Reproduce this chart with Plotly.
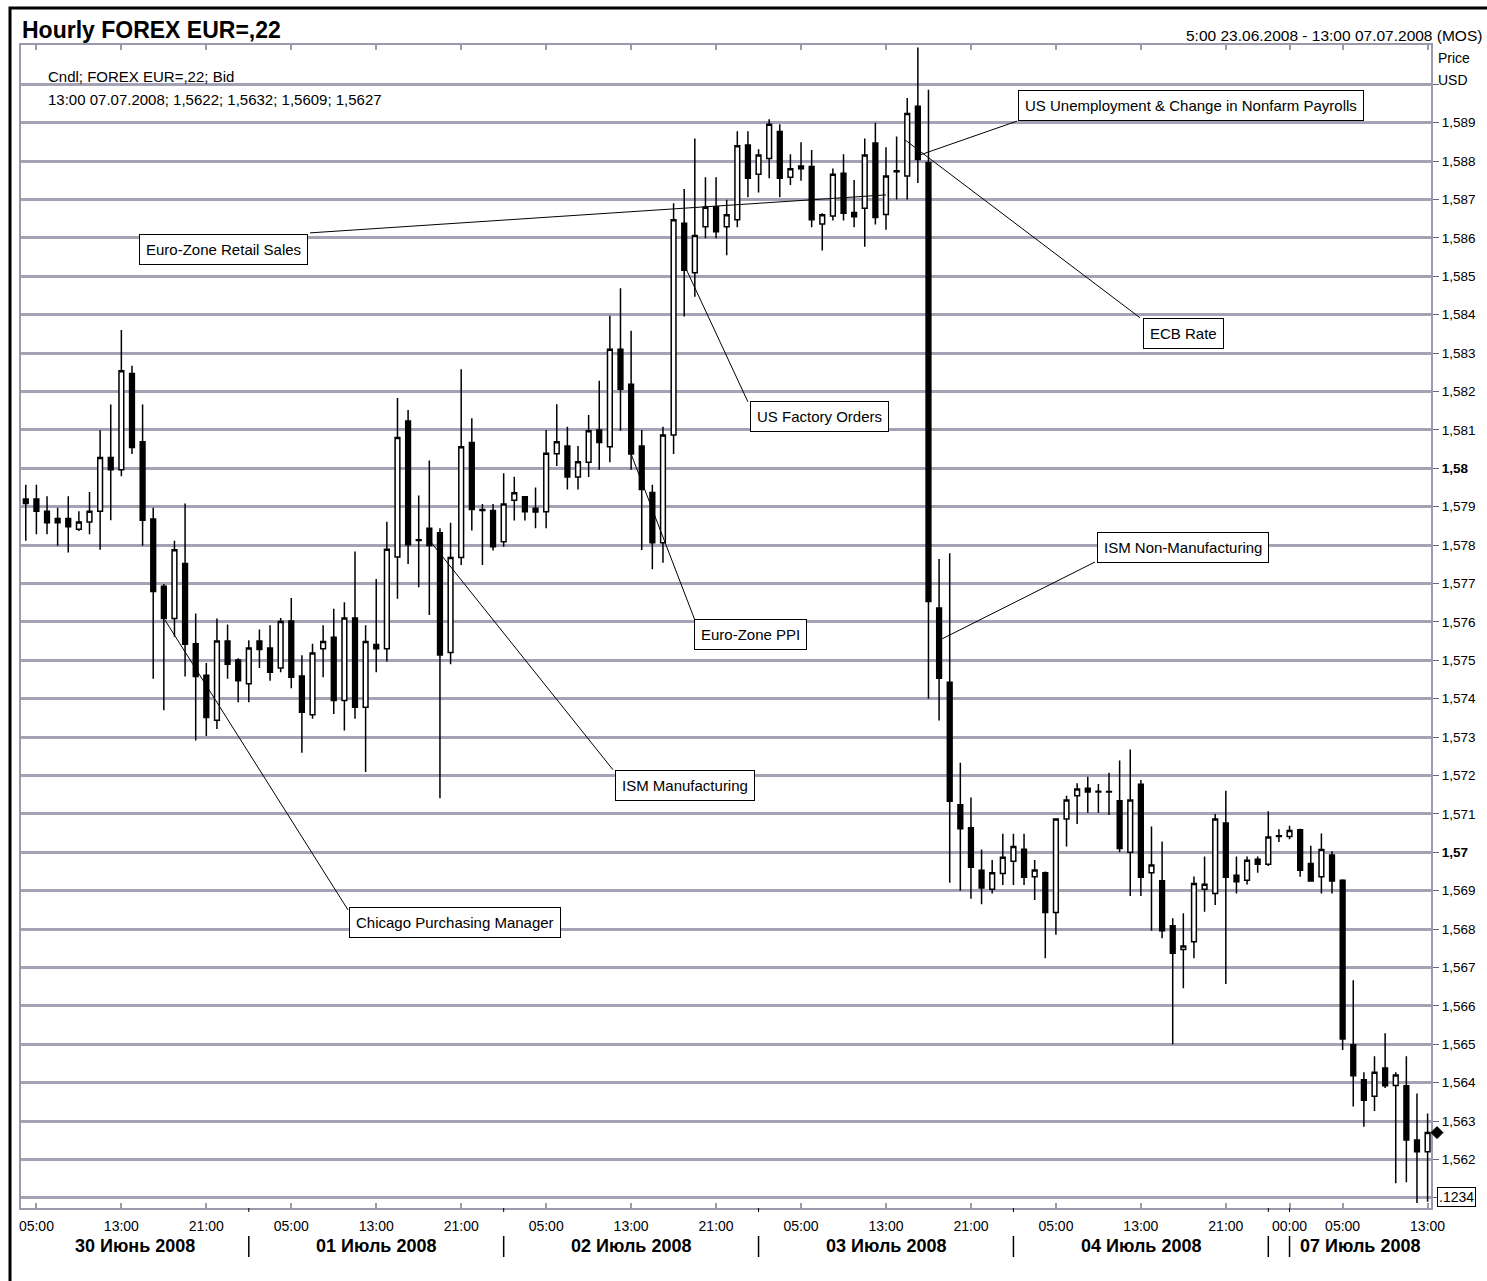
import plotly.graph_objects as go

# ---------------- data (hourly EUR/USD, 30.06.2008 04:00 .. 07.07.2008 13:00) ----------------
opens = [1.5792, 1.5792, 1.57888, 1.57869, 1.57869, 1.57841, 1.5786, 1.57888, 1.58028, 1.57996,
         1.58247, 1.58069, 1.57868, 1.57693, 1.57609, 1.57752, 1.57543, 1.57461, 1.57344, 1.5755,
         1.57501, 1.57439, 1.5755, 1.57532, 1.5748, 1.57602, 1.57459, 1.57358, 1.5753, 1.5756,
         1.57395, 1.5761, 1.57378, 1.57541, 1.5753, 1.57769, 1.58123, 1.57814, 1.57844, 1.57832,
         1.5752, 1.57768, 1.58067, 1.57893, 1.5789, 1.57809, 1.57917, 1.57926, 1.57896, 1.57887,
         1.58038, 1.58058, 1.57977, 1.58016, 1.581, 1.58056, 1.5831, 1.58219, 1.58058, 1.57937,
         1.57806, 1.58087, 1.58638, 1.58509, 1.58629, 1.58681, 1.58629, 1.58647, 1.58842, 1.58766,
         1.58807, 1.58877, 1.58758, 1.58787, 1.58786, 1.58636, 1.58657, 1.58768, 1.58666, 1.58677,
         1.58847, 1.58661, 1.58772, 1.58761, 1.58943, 1.58796, 1.57636, 1.57443, 1.57124, 1.57064,
         1.56953, 1.56904, 1.56945, 1.56977, 1.57008, 1.56936, 1.56947, 1.56843, 1.57087, 1.57147,
         1.57167, 1.57159, 1.57158, 1.57134, 1.57, 1.57177, 1.56947, 1.56926, 1.56809, 1.56747,
         1.56767, 1.56904, 1.56893, 1.57076, 1.5694, 1.56927, 1.56982, 1.56969, 1.57041, 1.57041,
         1.57059, 1.56971, 1.56936, 1.56993, 1.56927, 1.56499, 1.56408, 1.56365, 1.56438, 1.56393,
         1.56392, 1.56251, 1.5622]
highs = [1.57957, 1.57957, 1.57927, 1.57897, 1.57927, 1.57888, 1.57938, 1.58099, 1.58166, 1.5836,
         1.58267, 1.58166, 1.57897, 1.57699, 1.57811, 1.57908, 1.57622, 1.57493, 1.57609, 1.57593,
         1.57505, 1.57552, 1.5758, 1.57591, 1.5761, 1.57662, 1.57513, 1.57543, 1.57591, 1.57634,
         1.57651, 1.57783, 1.57591, 1.57712, 1.57861, 1.58183, 1.58152, 1.57929, 1.5802, 1.57844,
         1.57858, 1.58258, 1.5813, 1.57907, 1.57907, 1.57987, 1.57978, 1.57926, 1.5795, 1.581,
         1.58167, 1.58108, 1.58058, 1.58139, 1.58228, 1.58397, 1.58469, 1.58358, 1.581, 1.57957,
         1.58108, 1.5869, 1.58727, 1.58859, 1.58758, 1.58758, 1.58699, 1.58878, 1.58878, 1.58831,
         1.58909, 1.58896, 1.58818, 1.58849, 1.58829, 1.58664, 1.58781, 1.58818, 1.58751, 1.58859,
         1.589, 1.58836, 1.58864, 1.58964, 1.59096, 1.58986, 1.57764, 1.57779, 1.57233, 1.57143,
         1.57007, 1.5698, 1.57048, 1.57048, 1.57048, 1.5698, 1.5695, 1.57087, 1.57147, 1.5718,
         1.57197, 1.57178, 1.57207, 1.57239, 1.57268, 1.57188, 1.57067, 1.57028, 1.56828, 1.56841,
         1.56937, 1.56989, 1.571, 1.5716, 1.56989, 1.56989, 1.56989, 1.57107, 1.5706, 1.57069,
         1.57061, 1.57017, 1.57049, 1.57003, 1.5693, 1.56667, 1.56427, 1.56469, 1.56529, 1.56427,
         1.56469, 1.56372, 1.5632]
lows = [1.57811, 1.57828, 1.57828, 1.57798, 1.57781, 1.57837, 1.57828, 1.57788, 1.57865, 1.57979,
        1.58037, 1.57798, 1.57452, 1.5737, 1.57561, 1.57458, 1.57291, 1.57303, 1.57321, 1.57452,
        1.57391, 1.57391, 1.5748, 1.57447, 1.57469, 1.57427, 1.57259, 1.57348, 1.57456, 1.5736,
        1.57317, 1.57348, 1.57209, 1.57469, 1.57497, 1.5766, 1.57751, 1.5769, 1.57618, 1.57141,
        1.5749, 1.57748, 1.57838, 1.57748, 1.57786, 1.57796, 1.57864, 1.57864, 1.57844, 1.57844,
        1.58006, 1.57945, 1.57945, 1.57977, 1.57996, 1.58016, 1.58098, 1.57996, 1.57787, 1.57737,
        1.57754, 1.58037, 1.58395, 1.58447, 1.58599, 1.58599, 1.58555, 1.58628, 1.58706, 1.58718,
        1.58755, 1.58706, 1.58738, 1.58749, 1.58628, 1.58567, 1.58645, 1.58645, 1.58628, 1.58577,
        1.58635, 1.58621, 1.587, 1.587, 1.58743, 1.574, 1.57343, 1.56921, 1.569, 1.56879,
        1.56865, 1.56893, 1.56915, 1.56915, 1.56915, 1.56876, 1.56724, 1.56785, 1.57015, 1.57074,
        1.57103, 1.57103, 1.57097, 1.57, 1.56886, 1.56886, 1.56796, 1.56776, 1.565, 1.56646,
        1.56724, 1.56845, 1.56863, 1.56657, 1.56893, 1.56916, 1.56947, 1.56964, 1.57027, 1.57034,
        1.56936, 1.56923, 1.56893, 1.56893, 1.56485, 1.56338, 1.56285, 1.56326, 1.56386, 1.56138,
        1.56141, 1.56087, 1.5609]
closes = [1.57908, 1.57888, 1.57858, 1.57858, 1.57848, 1.5786, 1.57888, 1.58028, 1.57996, 1.58254,
          1.58054, 1.57865, 1.57679, 1.57609, 1.57788, 1.57542, 1.57458, 1.57351, 1.5755, 1.5749,
          1.57447, 1.57532, 1.57528, 1.57469, 1.57601, 1.57456, 1.57365, 1.57519, 1.57549, 1.57395,
          1.5761, 1.57378, 1.57549, 1.5753, 1.57789, 1.5808, 1.57801, 1.57812, 1.57799, 1.57514,
          1.57768, 1.58056, 1.57893, 1.5789, 1.57796, 1.57907, 1.57936, 1.57887, 1.57886, 1.58039,
          1.58069, 1.57977, 1.58017, 1.58098, 1.58067, 1.5831, 1.58206, 1.58037, 1.57945, 1.57806,
          1.58087, 1.58647, 1.58516, 1.58606, 1.5868, 1.58616, 1.5866, 1.5884, 1.58755, 1.58816,
          1.58896, 1.58755, 1.5878, 1.5878, 1.58647, 1.5866, 1.58766, 1.58664, 1.58655, 1.58816,
          1.58653, 1.58761, 1.58775, 1.58924, 1.58804, 1.57653, 1.57453, 1.57133, 1.57061, 1.56961,
          1.56907, 1.56947, 1.56987, 1.57015, 1.56935, 1.56954, 1.56843, 1.57087, 1.57136, 1.57165,
          1.57157, 1.57157, 1.57157, 1.5701, 1.57136, 1.56935, 1.56967, 1.56796, 1.56737, 1.56756,
          1.56919, 1.56917, 1.57087, 1.56935, 1.56923, 1.56979, 1.56969, 1.5704, 1.57043, 1.57057,
          1.56953, 1.56925, 1.57007, 1.56925, 1.56514, 1.56418, 1.56354, 1.56427, 1.56392, 1.5642,
          1.56251, 1.5622, 1.5627]
candle_idx = list(range(len(opens)))

hour_tick_idx = [1, 9, 17, 25, 33, 41, 49, 57, 65, 73, 81, 89, 97, 105, 113, 119, 124, 132]
hour_tick_text = ['05:00', '13:00', '21:00', '05:00', '13:00', '21:00', '05:00', '13:00', '21:00',
                  '05:00', '13:00', '21:00', '05:00', '13:00', '21:00', '00:00', '05:00', '13:00']
day_breaks = [21, 45, 69, 93, 117, 119]
day_labels = ['30 Июнь 2008', '01 Июль 2008', '02 Июль 2008', '03 Июль 2008', '04 Июль 2008', '',
              '07 Июль 2008']

price_ticks = [1.561, 1.562, 1.563, 1.564, 1.565, 1.566, 1.567, 1.568, 1.569, 1.570,
               1.571, 1.572, 1.573, 1.574, 1.575, 1.576, 1.577, 1.578, 1.579, 1.580,
               1.581, 1.582, 1.583, 1.584, 1.585, 1.586, 1.587, 1.588, 1.589, 1.590]
price_tick_text = ['', '1,562', '1,563', '1,564', '1,565', '1,566', '1,567', '1,568', '1,569',
                   '<b>1,57</b>', '1,571', '1,572', '1,573', '1,574', '1,575', '1,576', '1,577',
                   '1,578', '1,579', '<b>1,58</b>', '1,581', '1,582', '1,583', '1,584', '1,585',
                   '1,586', '1,587', '1,588', '1,589', '']

event_labels = ['Euro-Zone Retail Sales', 'US Unemployment & Change in Nonfarm Payrolls',
                'ECB Rate', 'US Factory Orders', 'Euro-Zone PPI', 'ISM Manufacturing',
                'Chicago Purchasing Manager', 'ISM Non-Manufacturing']
event_candle = [81, 84, 83, 62, 57, 38, 13, 86]

# ---------------- layout / placement (styles, not data) ----------------
W, H = 1487, 1281
ML, MR, MT, MB = 21, 56, 45, 73
PW, PH = W - ML - MR, H - MT - MB
X_RANGE = [-0.45, 132.32]
Y_RANGE = [1.560737, 1.591023]
FONT = 'Liberation Sans, Arial, sans-serif'
GRID = '#a3a3b5'
AXIS = '#9a9aac'


def px_x(px):
    return (px - ML) / PW


def px_y(py):
    return (H - MB - py) / PH


# box centre (x-index, price), line anchor on the candle (price), line end at the box (x-index, price)
event_box = [(18.66, 1.58571), (109.76, 1.58946), (109.06, 1.58350), (74.78, 1.58134),
             (68.24, 1.57566), (62.07, 1.57175), (40.46, 1.56816), (108.92, 1.57795)]
event_anchor_dx = [0.0, 0.2, -0.2, 0.23, 0.0, 0.0, 0.1, 0.08]
event_anchor_y = [1.58712, 1.58816, 1.58855, 1.58516, 1.58037, 1.57813, 1.57605, 1.57553]
event_line_end = [(26.76, 1.58613), (93.33, 1.58904), (104.92, 1.58392), (68.0, 1.58173),
                  (63.0, 1.57605), (55.29, 1.57215), (30.34, 1.5685), (100.68, 1.57756)]

fig = go.Figure()
fig.add_trace(go.Candlestick(
    x=candle_idx, open=opens, high=highs, low=lows, close=closes,
    increasing=dict(fillcolor='white', line=dict(color='black', width=1.5)),
    decreasing=dict(fillcolor='black', line=dict(color='black', width=1.5)),
    whiskerwidth=0, showlegend=False, hoverinfo='skip'))

shapes = []
annotations = []

# last price marker (diamond just right of the price axis)
shapes.append(dict(type='path', xref='paper', yref='y', xsizemode='pixel', ysizemode='pixel',
                   xanchor=px_x(1437), yanchor=closes[-1],
                   path='M -6 0 L 0 6 L 6 0 L 0 -6 Z', fillcolor='black',
                   line=dict(color='black', width=1), layer='above'))

# event leader lines and boxes
for lab, ci, dx, ay, (bx, by), (ex, ey) in zip(event_labels, event_candle, event_anchor_dx,
                                              event_anchor_y, event_box, event_line_end):
    shapes.append(dict(type='line', xref='x', yref='y', x0=ci + dx, y0=ay, x1=ex, y1=ey,
                       line=dict(color='black', width=1)))
    annotations.append(dict(xref='x', yref='y', x=bx, y=by, text=lab, showarrow=False,
                            xanchor='center', yanchor='middle',
                            font=dict(family=FONT, size=15, color='black'),
                            bgcolor='white', bordercolor='black', borderwidth=1, borderpad=6))

# day labels and separators below the axis
bounds = [X_RANGE[0]] + day_breaks + [X_RANGE[1]]
for i, lab in enumerate(day_labels):
    if lab:
        annotations.append(dict(xref='x', yref='paper', x=(bounds[i] + bounds[i + 1]) / 2,
                                y=px_y(1246), text='<b>' + lab + '</b>', showarrow=False,
                                xanchor='center', yanchor='middle',
                                font=dict(family=FONT, size=18, color='black')))
for b in day_breaks:
    shapes.append(dict(type='line', xref='x', yref='paper', x0=b, x1=b,
                       y0=px_y(1236), y1=px_y(1257), line=dict(color='black', width=1.5)))
    shapes.append(dict(type='line', xref='x', yref='paper', x0=b, x1=b,
                       y0=px_y(1208), y1=px_y(1212), line=dict(color='black', width=1)))

# outer frame
shapes.append(dict(type='rect', xref='paper', yref='paper', x0=px_x(10), x1=px_x(1495),
                   y0=px_y(1295), y1=px_y(8), line=dict(color='black', width=3),
                   fillcolor='rgba(0,0,0,0)', layer='above'))

# header texts
annotations += [
    dict(xref='paper', yref='paper', x=px_x(20), y=px_y(30), text='<b>Hourly FOREX EUR=,22</b>',
         showarrow=False, xanchor='left', yanchor='middle',
         font=dict(family=FONT, size=23, color='black')),
    dict(xref='paper', yref='paper', x=px_x(1484), y=px_y(35),
         text='5:00 23.06.2008 - 13:00 07.07.2008 (MOS)', showarrow=False,
         xanchor='right', yanchor='middle', font=dict(family=FONT, size=15.5, color='black')),
    dict(xref='paper', yref='paper', x=px_x(1436), y=px_y(58), text='Price', showarrow=False,
         xanchor='left', yanchor='middle', font=dict(family=FONT, size=14, color='black')),
    dict(xref='paper', yref='paper', x=px_x(1436), y=px_y(80), text='USD', showarrow=False,
         xanchor='left', yanchor='middle', font=dict(family=FONT, size=14, color='black')),
    dict(xref='paper', yref='paper', x=px_x(46), y=px_y(76), text='Cndl; FOREX EUR=,22; Bid',
         showarrow=False, xanchor='left', yanchor='middle',
         font=dict(family=FONT, size=15, color='black')),
    dict(xref='paper', yref='paper', x=px_x(46), y=px_y(99),
         text='13:00 07.07.2008; 1,5622; 1,5632; 1,5609; 1,5627',
         showarrow=False, xanchor='left', yanchor='middle',
         font=dict(family=FONT, size=15, color='black')),
    dict(xref='paper', yref='paper', x=px_x(1437), y=px_y(1197), text='.1234', showarrow=False,
         xanchor='left', yanchor='middle', font=dict(family=FONT, size=14, color='black'),
         bgcolor='white', bordercolor='black', borderwidth=1, borderpad=1),
]

fig.update_layout(
    template='none', width=W, height=H, autosize=False,
    margin=dict(l=ML, r=MR, t=MT, b=MB, pad=0),
    paper_bgcolor='white', plot_bgcolor='white', hovermode=False, showlegend=False,
    boxgap=0.36,
    shapes=shapes, annotations=annotations,
    font=dict(family=FONT, color='black'),
)
fig.update_xaxes(
    range=X_RANGE, rangeslider=dict(visible=False), automargin=False,
    showgrid=False, zeroline=False,
    tickmode='array', tickvals=hour_tick_idx, ticktext=hour_tick_text,
    ticks='inside', ticklen=5, tickwidth=1.5, tickcolor=AXIS,
    showline=True, linecolor=AXIS, linewidth=2, mirror='ticks',
    tickfont=dict(family=FONT, size=14, color='black'), ticklabelstandoff=4,
)
fig.update_yaxes(
    range=Y_RANGE, side='right', automargin=False,
    tickmode='array', tickvals=price_ticks, ticktext=price_tick_text,
    showgrid=True, gridcolor=GRID, gridwidth=2.5, zeroline=False,
    ticks='outside', ticklen=6, tickwidth=1, tickcolor='#666677',
    showline=True, linecolor=AXIS, linewidth=2, mirror=True,
    tickfont=dict(family=FONT, size=13.5, color='black'),
)

fig.write_html('out.html', config={'displayModeBar': False},
               post_script="document.body.style.margin='0px';")
